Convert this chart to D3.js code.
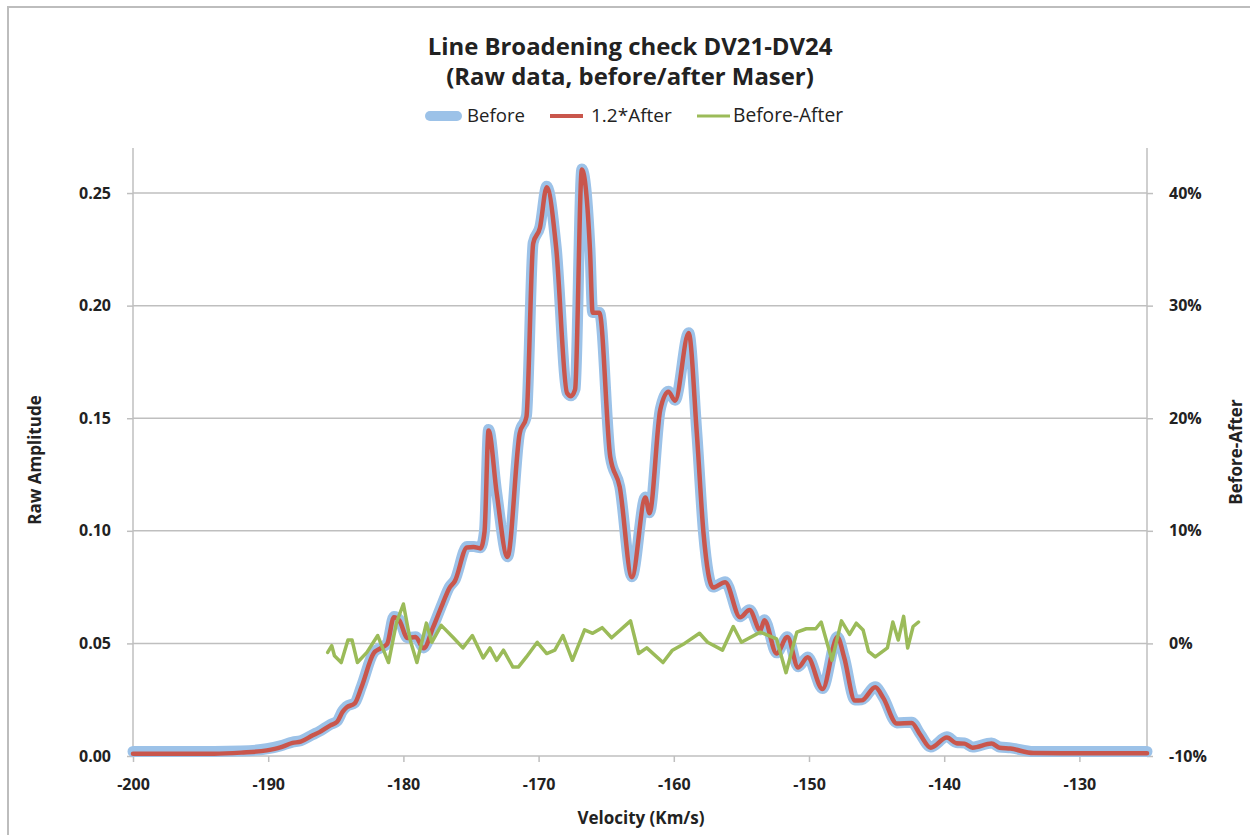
<!DOCTYPE html>
<html>
<head>
<meta charset="utf-8">
<script src="https://cdn.jsdelivr.net/npm/d3@7"></script>
<style>
  body { margin: 0; background: #fff; }
  svg text { font-family: "Open Sans", Lato, sans-serif; fill: #222; }
</style>
</head>
<body>
<svg width="1250" height="835"></svg>
<script>
// Data

var velocity = [-200, -197, -194, -192, -190.1, -189.1, -188.2, -187.6, -186.7, -186.2, -185.4, -184.9, -184.5, -184.2, -183.6,
  -183.1, -182.2, -181.7, -181.2, -180.7, -180.3, -179.7, -179.1, -178.5, -177.8, -177.1, -176.6, -176.2, -175.3, -174.8,
  -174.3, -174.0, -173.7, -173.1, -172.3, -171.4, -170.9, -170.4, -169.9, -169.4, -168.7, -167.9, -167.6, -167.3, -166.8,
  -166.2, -166.0, -165.5, -164.7, -164.0, -163.1, -162.1, -161.8, -161.0, -160.4, -159.9, -158.9, -158.3, -157.8, -157.1,
  -156.2, -155.1, -154.4, -153.6, -153.3, -152.4, -151.6, -150.8, -150.1, -149.0, -147.9, -147.4, -146.6, -146.1, -145.1,
  -144.5, -143.5, -142.4, -141.8, -141.0, -139.8, -139.1, -138.5, -137.9, -136.5, -135.9, -135.1, -133.4, -130, -125]

var before = [0.002, 0.002, 0.002, 0.0022, 0.0032, 0.0045, 0.0062, 0.0068, 0.0095, 0.011, 0.014, 0.0155, 0.02, 0.022, 0.0236,
  0.031, 0.046, 0.048, 0.050, 0.062, 0.0605, 0.0525, 0.053, 0.048, 0.0574, 0.068, 0.075, 0.078, 0.093, 0.093,
  0.0925, 0.10, 0.145, 0.117, 0.0885, 0.1437, 0.151, 0.228, 0.235, 0.253, 0.226, 0.1615, 0.160, 0.163, 0.2607,
  0.225, 0.197, 0.197, 0.133, 0.1197, 0.0796, 0.115, 0.108, 0.154, 0.162, 0.158, 0.188, 0.1437, 0.099, 0.075,
  0.0774, 0.0618, 0.065, 0.056, 0.0605, 0.0458, 0.053, 0.0396, 0.044, 0.030, 0.053, 0.044, 0.0249, 0.025, 0.0307,
  0.026, 0.0147, 0.015, 0.010, 0.004, 0.0085, 0.006, 0.0058, 0.004, 0.0058, 0.004, 0.0036, 0.002, 0.002, 0.002]

var after12 = [0.001, 0.001, 0.001, 0.0015, 0.0025, 0.0038, 0.0058, 0.0064, 0.0092, 0.0106, 0.0136, 0.0152, 0.0196, 0.0216, 0.0234,
  0.0306, 0.0456, 0.0478, 0.0498, 0.0616, 0.0602, 0.0524, 0.0528, 0.0478, 0.0572, 0.0676, 0.0746, 0.0776, 0.0926, 0.0928,
  0.0922, 0.0996, 0.1446, 0.1168, 0.0884, 0.1432, 0.1506, 0.2276, 0.2346, 0.2526, 0.2256, 0.1612, 0.1598, 0.1628, 0.2604,
  0.2248, 0.1968, 0.1968, 0.1328, 0.1195, 0.0794, 0.1148, 0.1078, 0.1538, 0.1618, 0.1578, 0.1878, 0.1435, 0.0988, 0.0748,
  0.0772, 0.0616, 0.0648, 0.0558, 0.0603, 0.0455, 0.0528, 0.0393, 0.0438, 0.0297, 0.0528, 0.0438, 0.0246, 0.0247, 0.0305,
  0.0257, 0.0144, 0.0147, 0.0097, 0.0037, 0.0082, 0.0057, 0.0055, 0.0037, 0.0055, 0.0037, 0.0033, 0.0013, 0.0012, 0.0012]

var diffVelocity = [-185.6, -185.3, -185.1, -184.6, -184.1, -183.8, -183.4, -182.7, -181.9, -181.1, -180.5, -180.0, -179.5,
  -179.0, -178.3, -177.9, -177.2, -176.3, -175.6, -174.9, -174.1, -173.6, -173.1, -172.6, -171.9, -171.5, -170.9, -170.1,
  -169.4, -168.8, -168.2, -167.5, -166.6, -166.0, -165.3, -164.6, -163.2, -162.6, -162.0, -160.8, -160.1, -159.2, -158.1,
  -157.5, -156.4, -155.6, -155.0, -153.6, -152.4, -151.7, -150.9, -150.2, -149.5, -149.1, -148.3, -147.6, -147.0, -146.5,
  -146.0, -145.6, -145.1, -144.2, -143.8, -143.4, -143.0, -142.7, -142.3, -141.9]

var diff = [-0.008, -0.002, -0.011, -0.017, 0.003, 0.003, -0.017, -0.008, 0.007, -0.017, 0.019, 0.035, 0.003,
  -0.017, 0.018, 0.001, 0.016, 0.005, -0.004, 0.007, -0.013, -0.004, -0.015, -0.006, -0.021, -0.021, -0.012, 0.001,
  -0.009, -0.006, 0.007, -0.015, 0.012, 0.009, 0.014, 0.005, 0.020, -0.009, -0.004, -0.017, -0.006, 0.000, 0.009,
  0.001, -0.006, 0.015, 0.001, 0.010, 0.004, -0.026, 0.010, 0.013, 0.013, 0.019, -0.015, 0.020, 0.008, 0.018,
  0.012, -0.007, -0.012, -0.004, 0.019, 0.003, 0.024, -0.004, 0.015, 0.019]

var xTicks = [-200, -190, -180, -170, -160, -150, -140, -130]
var yTicks = [0, 0.05, 0.10, 0.15, 0.20, 0.25]
var y2Ticks = [-0.1, 0, 0.1, 0.2, 0.3, 0.4]

var seriesNames = ["Before", "1.2*After", "Before-After"]
var colors = ["#9cc2e8", "#c9564c", "#9bbb59"]

var svg = d3.select("svg")

// chart frame
svg.append("rect")
  .attr("x", 8).attr("y", 7)
  .attr("width", 1260).attr("height", 840)
  .attr("fill", "none")
  .attr("stroke", "#bdbdbd")
  .attr("stroke-width", 2)

var plotLeft = 133, plotRight = 1147, plotTop = 148, plotBottom = 756

var x = d3.scaleLinear().domain([-200, -125]).range([plotLeft, plotRight])
var y = d3.scaleLinear().domain([0, 0.27]).range([plotBottom, plotTop])
var y2 = d3.scaleLinear().domain([-0.1, 0.44]).range([plotBottom, plotTop])

// gridlines
svg.append("g")
  .selectAll("line")
  .data(yTicks.slice(1))
  .enter()
  .append("line")
  .attr("x1", plotLeft).attr("x2", plotRight)
  .attr("y1", d => y(d)).attr("y2", d => y(d))
  .attr("stroke", "#bfbfbf")
  .attr("stroke-width", 1.5)

// axes
var xAxis = svg.append("g")
  .attr("transform", "translate(0," + plotBottom + ")")
  .call(d3.axisBottom(x).tickValues(xTicks).tickSize(6).tickPadding(17).tickFormat(d => String(d)))
var yAxis = svg.append("g")
  .attr("transform", "translate(" + plotLeft + ",0)")
  .call(d3.axisLeft(y).tickValues(yTicks).tickSize(6).tickPadding(16).tickFormat(d3.format(".2f")))
var y2Axis = svg.append("g")
  .attr("transform", "translate(" + plotRight + ",0)")
  .call(d3.axisRight(y2).tickValues(y2Ticks).tickSize(6).tickPadding(16).tickFormat(d => Math.round(d * 100) + "%"))

;[xAxis, yAxis, y2Axis].forEach(function (g) {
  g.select(".domain").attr("stroke", "#bfbfbf").attr("stroke-width", 1.5)
  g.selectAll(".tick line").attr("stroke", "#bfbfbf").attr("stroke-width", 1.5)
  g.selectAll(".tick text")
    .style("font-family", "'Open Sans', sans-serif")
    .style("font-size", "16px")
    .style("font-weight", "bold")
    .attr("fill", "#222")
})
xAxis.select(".domain").attr("d", "M" + plotLeft + ",0H" + plotRight)
yAxis.select(".domain").attr("d", "M0," + plotTop + "V" + plotBottom)
y2Axis.select(".domain").attr("d", "M0," + plotTop + "V" + plotBottom)

// lines
var lineMain = d3.line()
  .x(d => x(d[0]))
  .y(d => y(d[1]))
  .curve(d3.curveMonotoneX)
var lineDiff = d3.line()
  .x(d => x(d[0]))
  .y(d => y2(d[1]))

var plot = svg.append("g")
plot.append("path")
  .datum(d3.zip(velocity, before))
  .attr("d", lineMain)
  .attr("fill", "none")
  .attr("stroke", colors[0])
  .attr("stroke-width", 11)
  .attr("stroke-linejoin", "round")
  .attr("stroke-linecap", "round")
plot.append("path")
  .datum(d3.zip(velocity, after12))
  .attr("d", lineMain)
  .attr("fill", "none")
  .attr("stroke", colors[1])
  .attr("stroke-width", 4.5)
  .attr("stroke-linejoin", "round")
  .attr("stroke-linecap", "round")
plot.append("path")
  .datum(d3.zip(diffVelocity, diff))
  .attr("d", lineDiff)
  .attr("fill", "none")
  .attr("stroke", colors[2])
  .attr("stroke-width", 3.5)
  .attr("stroke-linejoin", "round")
  .attr("stroke-linecap", "round")

// shrink or grow a text so it spans the width it has in the picture
function fitWidth(sel, target) {
  var size = parseFloat(sel.style("font-size"))
  var w = sel.node().getComputedTextLength()
  sel.style("font-size", (size * target / w).toFixed(1) + "px")
}

// title
var t1 = svg.append("text")
  .attr("x", 630).attr("y", 55)
  .attr("text-anchor", "middle")
  .style("font-size", "22px")
  .style("font-weight", "bold")
  .text("Line Broadening check DV21-DV24")
fitWidth(t1, 405)
var t2 = svg.append("text")
  .attr("x", 630).attr("y", 85)
  .attr("text-anchor", "middle")
  .style("font-size", t1.style("font-size"))
  .style("font-weight", "bold")
  .text("(Raw data, before/after Maser)")

// legend
var legendX = [425, 550, 697]
var legendTextX = [42, 41, 36]
var legendTextW = [58, 81, 110]
var legendW = [10, 4, 3]
var legend = svg.append("g")
  .selectAll("g")
  .data(seriesNames)
  .enter()
  .append("g")
  .attr("transform", (d, i) => "translate(" + legendX[i] + ",116)")
legend.append("line")
  .attr("x1", (d, i) => i === 0 ? 5 : 0)
  .attr("x2", (d, i) => i === 0 ? 32 : 33)
  .attr("stroke", (d, i) => colors[i])
  .attr("stroke-width", (d, i) => legendW[i])
  .attr("stroke-linecap", (d, i) => i === 0 ? "round" : "butt")
legend.append("text")
  .attr("x", (d, i) => legendTextX[i])
  .attr("y", 6)
  .style("font-size", "16px")
  .text(d => d)
  .each(function (d, i) { fitWidth(d3.select(this), legendTextW[i]) })

// axis titles
svg.append("text")
  .attr("transform", "translate(41,460) rotate(-90)")
  .attr("text-anchor", "middle")
  .style("font-size", "17px")
  .style("font-weight", "bold")
  .text("Raw Amplitude")
svg.append("text")
  .attr("transform", "translate(1242,452) rotate(-90)")
  .attr("text-anchor", "middle")
  .style("font-size", "17px")
  .style("font-weight", "bold")
  .text("Before-After")
svg.append("text")
  .attr("x", 641).attr("y", 824)
  .attr("text-anchor", "middle")
  .style("font-size", "17px")
  .style("font-weight", "bold")
  .text("Velocity (Km/s)")
</script>
</body>
</html>
